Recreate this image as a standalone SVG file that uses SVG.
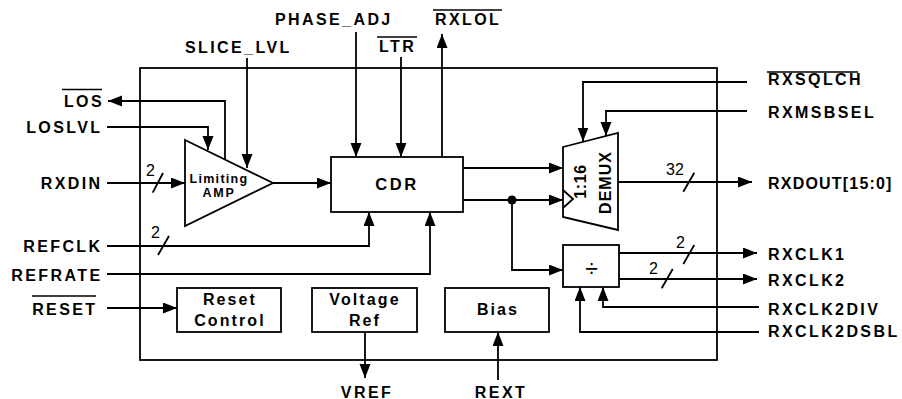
<svg xmlns="http://www.w3.org/2000/svg" width="902" height="399" viewBox="0 0 902 399">
<defs>
<marker id="ah" markerUnits="userSpaceOnUse" markerWidth="15" markerHeight="12" refX="14" refY="5.5" orient="auto">
<path d="M0,0 L14,5.5 L0,11 z" fill="#000"/>
</marker>
<style>
.ln{fill:none;stroke:#000;stroke-width:1.8}
.arr{fill:none;stroke:#000;stroke-width:1.8;marker-end:url(#ah)}
.box{fill:#fff;stroke:#000;stroke-width:1.8}
.lbl{font-family:"Liberation Sans",Arial,sans-serif;font-weight:bold;font-size:16px;letter-spacing:2.4px;fill:#000}
.blk{font-family:"Liberation Sans",Arial,sans-serif;font-weight:bold;font-size:16px;letter-spacing:2.1px;fill:#000;text-anchor:middle}
.num{font-family:"Liberation Sans",Arial,sans-serif;font-size:16px;fill:#000}
.ov{stroke:#000;stroke-width:1.5}
</style>
</defs>
<rect width="902" height="399" fill="#fff"/>
<g id="frame"><rect x="140" y="68" width="577" height="292" class="ln"/></g>

<g id="connectors">
<path class="arr" d="M247,58 V168"/>
<path class="arr" d="M225,159.5 V101 H108"/>
<path class="arr" d="M107,127 H208 V150"/>
<path class="arr" d="M107,183 H185"/>
<path class="arr" d="M273,183 H331"/>
<path class="arr" d="M107,246 H369 V212"/>
<path class="arr" d="M107,274 H430 V212"/>
<path class="arr" d="M107,308 H177"/>
<path class="arr" d="M356,32 V157"/>
<path class="arr" d="M401,57 V157"/>
<path class="arr" d="M442,157 V34"/>
<path class="arr" d="M463,168 H563"/>
<path class="arr" d="M463,200 H563"/>
<path class="arr" d="M512,200 V270 H563"/>
<circle cx="512" cy="200" r="4.5" fill="#000"/>
<path class="arr" d="M747,82 H583 V141.5"/>
<path class="arr" d="M747,111 H606 V136"/>
<path class="arr" d="M618,182 H752"/>
<path class="arr" d="M619,253 H757"/>
<path class="arr" d="M619,279 H757"/>
<path class="arr" d="M759,307 H603 V287"/>
<path class="arr" d="M759,332 H580 V287"/>
<path class="arr" d="M365,332 V378"/>
<path class="arr" d="M498,380 V332"/>
<g id="buswidths">
<path class="ln" d="M152.7,192.7 L163,173"/>
<text class="num" x="146" y="176">2</text>
<path class="ln" d="M158,255 L169,236"/>
<text class="num" x="151" y="238">2</text>
<path class="ln" d="M683.3,191.7 L694.3,172.7"/>
<text class="num" x="666" y="175">32</text>
<path class="ln" d="M683.3,264 L694.3,245"/>
<text class="num" x="676" y="248">2</text>
<path class="ln" d="M661.7,288.3 L672.7,269"/>
<text class="num" x="649" y="274">2</text>
</g>
</g>

<g id="amp">
<path class="box" d="M185,140 L273,183 L185,226 z"/>
<text class="blk" style="font-size:12.5px;letter-spacing:1.3px" x="219" y="183">Limiting</text>
<text class="blk" style="font-size:12.5px;letter-spacing:1.8px" x="219" y="197">AMP</text>
</g>
<g id="cdr">
<rect class="box" x="331" y="157" width="132" height="55"/>
<text class="blk" style="font-size:16.5px;letter-spacing:2.6px" x="397" y="190">CDR</text>
</g>
<g id="demux">
<path class="box" d="M563,147 L618,133 L618,230 L563,217 z"/>
<path class="ln" d="M563,190 L573,199 L563,208"/>
<text class="blk" style="letter-spacing:0.6px" transform="translate(585.5,181.5) rotate(-90)">1:16</text>
<text class="blk" style="letter-spacing:1px" transform="translate(610.5,182.5) rotate(-90)">DEMUX</text>
</g>
<g id="divider">
<rect class="box" x="563" y="245" width="56" height="42"/>
<text x="591.5" y="277" text-anchor="middle" font-family="Liberation Sans, Arial, sans-serif" font-size="23">÷</text>
</g>
<g id="reset">
<rect class="box" x="177" y="288" width="104" height="44"/>
<text class="blk" x="230" y="305">Reset</text>
<text class="blk" x="230" y="326">Control</text>
</g>
<g id="vref">
<rect class="box" x="312" y="288" width="105" height="44"/>
<text class="blk" x="365" y="305">Voltage</text>
<text class="blk" x="365" y="326">Ref</text>
</g>
<g id="bias">
<rect class="box" x="445" y="288" width="104" height="44"/>
<text class="blk" x="498" y="315">Bias</text>
</g>

<g id="pins">
<text class="lbl" x="185" y="53">SLICE_LVL</text>
<text class="lbl" x="275" y="25">PHASE_ADJ</text>
<text class="lbl" x="379" y="52">LTR</text>
<line class="ov" x1="377" y1="37" x2="417" y2="37"/>
<text class="lbl" x="435" y="25">RXLOL</text>
<line class="ov" x1="433" y1="10" x2="502" y2="10"/>
<text class="lbl" x="104" y="107" text-anchor="end">LOS</text>
<line class="ov" x1="62" y1="89.5" x2="102" y2="89.5"/>
<text class="lbl" x="102.5" y="133" text-anchor="end">LOSLVL</text>
<text class="lbl" x="102.5" y="189" text-anchor="end">RXDIN</text>
<text class="lbl" x="102.5" y="252" text-anchor="end">REFCLK</text>
<text class="lbl" x="102.5" y="281" text-anchor="end">REFRATE</text>
<text class="lbl" x="97.5" y="315" text-anchor="end">RESET</text>
<line class="ov" x1="32" y1="296" x2="96" y2="296"/>
<text class="lbl" x="768" y="85">RXSQLCH</text>
<line class="ov" x1="767" y1="72" x2="858" y2="72"/>
<text class="lbl" x="768" y="117.5">RXMSBSEL</text>
<text class="lbl" style="letter-spacing:1.2px" x="768" y="188.5">RXDOUT[15:0]</text>
<text class="lbl" x="768" y="260">RXCLK1</text>
<text class="lbl" x="768" y="286">RXCLK2</text>
<text class="lbl" x="768" y="315">RXCLK2DIV</text>
<text class="lbl" x="768" y="336.5">RXCLK2DSBL</text>
<text class="lbl" x="367" y="397.5" text-anchor="middle">VREF</text>
<text class="lbl" x="501" y="397.5" text-anchor="middle">REXT</text>
</g>
</svg>
